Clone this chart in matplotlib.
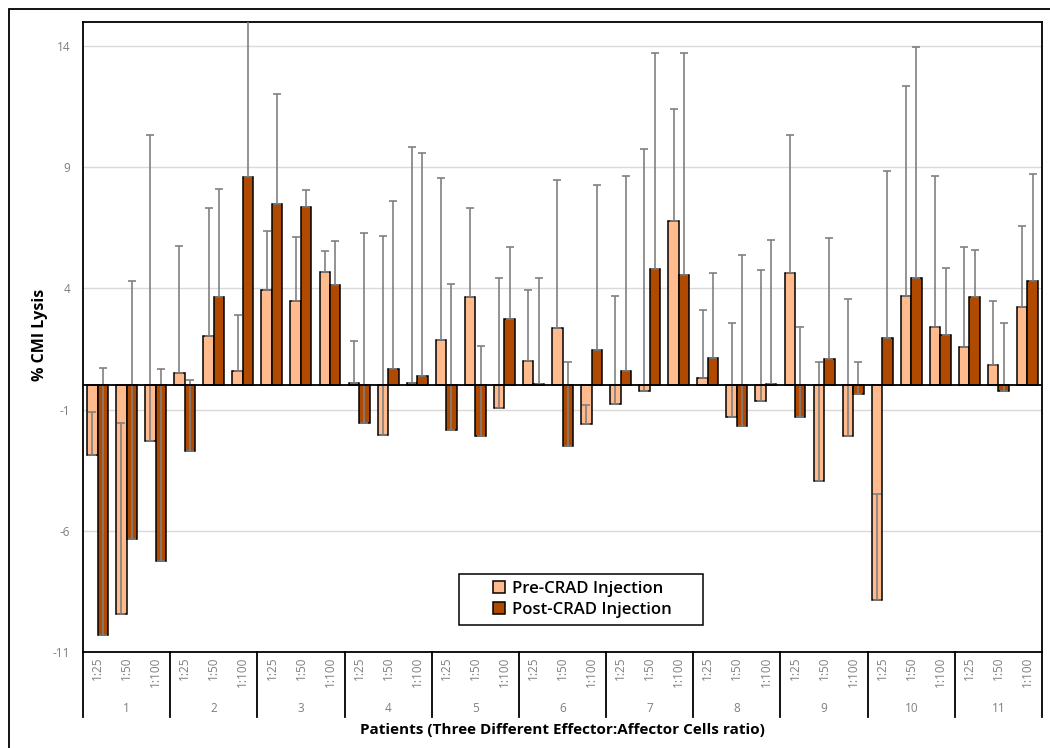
#!/usr/bin/env python

############# Required Packages ############
import matplotlib
matplotlib.use('Agg')
import matplotlib.pyplot as plt, numpy as np
from matplotlib.patches import Rectangle, Patch

############# DATA ############
patients    = ['1', '2', '3', '4', '5', '6', '7', '8', '9', '10', '11']
ratios      = ['1:25', '1:50', '1:100']

pre_crad    = [-2.88, -9.43, -2.30,  0.50, 2.04, 0.59,  3.92, 3.48, 4.69,
               0.11, -2.06, 0.08,  1.87, 3.66, -0.93,  1.02, 2.38, -1.60,
               -0.77, -0.22, 6.79,  0.32, -1.29, -0.63,  4.64, -3.94, -2.08,
               -8.86, 3.70, 2.41,  1.58, 0.84, 3.24]
pre_err     = [1.76, 7.89, 12.63,  5.26, 5.28, 2.31,  2.44, 2.66, 0.86,
               1.73, 8.23, 9.76,  6.69, 3.66, 5.36,  2.90, 6.08, 0.80,
               4.47, 9.96, 4.63,  2.77, 3.86, 5.37,  5.68, 4.89, 5.64,
               4.36, 8.64, 6.22,  4.14, 2.64, 3.34]

post_crad   = [-10.31, -6.34, -7.26,  -2.72, 3.63, 8.59,  7.50, 7.38, 4.15,
               -1.56, 0.68, 0.37,  -1.84, -2.10, 2.74,  0.05, -2.51, 1.47,
               0.59, 4.81, 4.56,  1.12, -1.70, 0.05,  -1.31, 1.08, -0.35,
               1.97, 4.43, 2.09,  3.66, -0.22, 4.30]
post_err    = [11.01, 10.65, 7.94,  2.94, 4.47, 8.00,  4.54, 0.67, 1.81,
               7.85, 6.92, 9.22,  6.02, 3.72, 2.98,  4.38, 3.49, 6.80,
               8.05, 8.91, 9.16,  3.51, 7.10, 5.95,  3.72, 4.99, 1.33,
               6.88, 9.53, 2.75,  1.92, 2.79, 4.44]

y_ticks     = [-11, -6, -1, 4, 9, 14]

############# PLOT SETTINGS ############
W, H        = 1050, 748
pre_color   = '#FFBB8E'
post_color  = '#B04A00'
err_color   = '#808080'
grid_color  = '#D9D9D9'
tick_color  = '#7F7F7F'
bar_width   = 0.36
font        = ['Open Sans', 'DejaVu Sans']

plt.rcParams['font.family'] = font

############# FIGURE ############
fig = plt.figure(figsize=(W / 100, H / 100), dpi=100)
ax = fig.add_axes([83 / W, (H - 651.7) / H, 959 / W, 629.7 / H])

x = np.arange(len(pre_crad))
zeros = np.zeros(len(x))

ax.bar(x - bar_width / 2, pre_crad, bar_width, color=pre_color, edgecolor='black', linewidth=1.1, zorder=2)
ax.bar(x + bar_width / 2, post_crad, bar_width, color=post_color, edgecolor='black', linewidth=1.1, zorder=2)

ax.errorbar(x - bar_width / 2, pre_crad, yerr=[zeros, pre_err], fmt='none', ecolor=err_color,
            elinewidth=1.2, capsize=3, capthick=1.2, zorder=3)
ax.errorbar(x + bar_width / 2, post_crad, yerr=[zeros, post_err], fmt='none', ecolor=err_color,
            elinewidth=1.2, capsize=3, capthick=1.2, zorder=3)

ax.axhline(0, color='black', linewidth=1.3, zorder=4)

ax.set_xlim(-0.5, len(x) - 0.5)
ax.set_ylim(-11, 15)
ax.set_yticks(y_ticks)
ax.set_yticklabels([str(t) for t in y_ticks])
ax.set_xticks([])
ax.tick_params(axis='y', length=0, pad=9, labelsize=8.5, labelcolor=tick_color)
ax.yaxis.grid(True, color=grid_color, linewidth=1.0, zorder=0)
ax.set_axisbelow(True)
for spine in ax.spines.values():
    spine.set_linewidth(1.3)
    spine.set_color('black')

############# CATEGORY AXIS (two levels) ############
trans = ax.get_xaxis_transform()
ax_h = 629.7
def ay(py):
    return (651.7 - py) / ax_h

for i in range(len(x)):
    ax.text(x[i], ay(657), ratios[i % 3], transform=trans, rotation=90, ha='center', va='top',
            fontsize=8.5, color=tick_color, clip_on=False)

for p, name in enumerate(patients):
    ax.text(3 * p + 1, ay(709), name, transform=trans, ha='center', va='center',
            fontsize=8.5, color=tick_color, clip_on=False)

for b in np.arange(len(patients) + 1) * 3 - 0.5:
    ax.plot([b, b], [0, ay(717)], transform=trans, color='black', linewidth=1.3, clip_on=False)

############# LABELS ############
fig.text(562.5 / W, 1 - 730 / H, 'Patients (Three Different Effector:Affector Cells ratio)',
         ha='center', va='center', fontsize=11, fontweight='bold')
fig.text(40 / W, 1 - 335 / H, '% CMI Lysis', rotation=90, ha='center', va='center',
         fontsize=11.5, fontweight='bold')

############# LEGEND ############
# frame drawn separately, wider than its contents
fig.patches.append(Rectangle((459 / W, 1 - 625 / H), 244 / W, 51 / H, transform=fig.transFigure,
                             facecolor='white', edgecolor='black', linewidth=1.1, zorder=5))
handles = [Patch(facecolor=pre_color, edgecolor='black', linewidth=1.1, label='Pre-CRAD Injection'),
           Patch(facecolor=post_color, edgecolor='black', linewidth=1.1, label='Post-CRAD Injection')]
legend = fig.legend(handles=handles, loc='center', bbox_to_anchor=(582 / W, 1 - 599.5 / H),
                    prop={'size': 12, 'weight': 'semibold'}, handlelength=0.75, handleheight=0.75,
                    handletextpad=0.4, borderpad=0.2, labelspacing=0.3, frameon=False,
                    borderaxespad=0)
legend.set_zorder(6)

############# OUTER BORDER ############
fig.patches.append(Rectangle((9 / W, -0.05), 1.2, 1 - 9 / H + 0.05, transform=fig.transFigure,
                             fill=False, edgecolor='black', linewidth=1.3))

fig.savefig('out.png', dpi=100)
